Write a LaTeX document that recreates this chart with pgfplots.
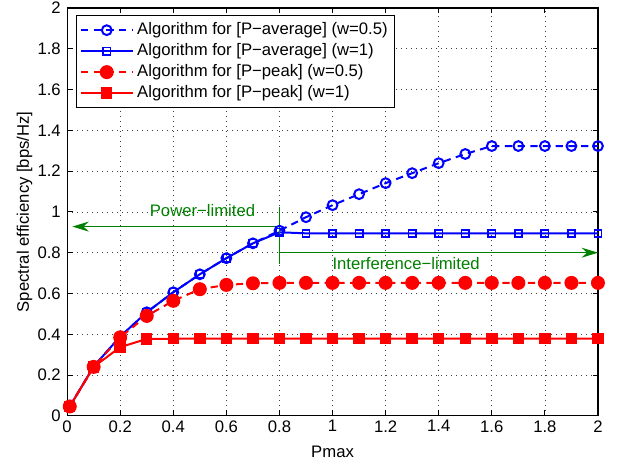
\documentclass[border=0pt]{standalone}
\usepackage{fontspec}
\setmainfont{Liberation Sans}
\usepackage{pgfplots}
\pgfplotsset{compat=1.18}
\usetikzlibrary{arrows.meta}
\definecolor{mgreen}{rgb}{0,0.5,0}
\begin{document}
\begin{tikzpicture}[font=\fontsize{9.2}{11}\selectfont]
\begin{axis}[
  scale only axis,
  width=292.6pt, height=224.8pt,
  xmin=0, xmax=2, ymin=0, ymax=2,
  xtick={0,0.2,0.4,0.6,0.8,1,1.2,1.4,1.6,1.8,2},
  ytick={0,0.2,0.4,0.6,0.8,1,1.2,1.4,1.6,1.8,2},
  /pgf/number format/assume math mode=true,
  xlabel={Pmax}, ylabel={Spectral efficiency [bps/Hz]},
  xlabel style={yshift=-1pt}, ylabel style={yshift=-4pt},
  xticklabel style={yshift=1pt},
  grid=major,
  major grid style={black!75, line width=0.4pt, dash pattern=on 0.45pt off 2.3pt},
  tick align=inside, major tick length=3pt,
  tick style={black, line width=0.5pt},
  axis line style={line width=0.6pt},
  legend cell align=left,
  legend style={at={(0.017,0.982)}, anchor=north west, draw=black, line width=0.6pt,
    inner sep=1.8pt, row sep=-0.6pt, font=\fontsize{9.2}{11}\selectfont},
  legend image code/.code={\draw[mark repeat=2,mark phase=2,#1] plot coordinates {(0cm,0cm) (0.5cm,0cm) (1cm,0cm)};},
]
\addplot[blue, line width=1.1pt, dash pattern=on 4pt off 3pt, mark=o, mark size=2.7pt, mark options={solid, line width=1.1pt}]
coordinates {(0.01,0.046)(0.1,0.242)(0.2,0.389)(0.3,0.508)(0.4,0.606)(0.5,0.694)(0.6,0.773)(0.7,0.846)(0.8,0.908)(0.9,0.974)(1.0,1.033)(1.1,1.087)(1.2,1.141)(1.3,1.19)(1.4,1.239)(1.5,1.284)(1.6,1.323)(1.7,1.323)(1.8,1.323)(1.9,1.323)(2.0,1.323)};
\addlegendentry{Algorithm for [P−average] (w=0.5)}
\addplot[blue, line width=1.1pt, mark=square, mark size=2pt, mark options={solid, line width=0.9pt}]
coordinates {(0.01,0.046)(0.1,0.242)(0.2,0.389)(0.3,0.508)(0.4,0.606)(0.5,0.694)(0.6,0.773)(0.7,0.846)(0.8,0.9)(0.9,0.895)(1.0,0.895)(1.1,0.895)(1.2,0.895)(1.3,0.895)(1.4,0.895)(1.5,0.895)(1.6,0.895)(1.7,0.895)(1.8,0.895)(1.9,0.895)(2.0,0.895)};
\addlegendentry{Algorithm for [P−average] (w=1)}
\addplot[red, line width=1.1pt, dash pattern=on 4pt off 3pt, mark=*, mark size=3.3pt, mark options={solid}]
coordinates {(0.01,0.046)(0.1,0.24)(0.2,0.385)(0.3,0.49)(0.4,0.564)(0.5,0.621)(0.6,0.642)(0.7,0.65)(0.8,0.652)(0.9,0.652)(1.0,0.652)(1.1,0.652)(1.2,0.652)(1.3,0.652)(1.4,0.652)(1.5,0.652)(1.6,0.652)(1.7,0.652)(1.8,0.652)(1.9,0.652)(2.0,0.652)};
\addlegendentry{Algorithm for [P−peak] (w=0.5)}
\addplot[red, line width=1.1pt, mark=square*, mark size=2.6pt, mark options={solid}]
coordinates {(0.01,0.046)(0.1,0.24)(0.2,0.337)(0.3,0.377)(0.4,0.378)(0.5,0.378)(0.6,0.378)(0.7,0.378)(0.8,0.378)(0.9,0.378)(1.0,0.378)(1.1,0.378)(1.2,0.378)(1.3,0.378)(1.4,0.378)(1.5,0.378)(1.6,0.378)(1.7,0.378)(1.8,0.378)(1.9,0.378)(2.0,0.378)};
\addlegendentry{Algorithm for [P−peak] (w=1)}
\draw[mgreen, line width=0.6pt] (axis cs:0.8,0.745) -- (axis cs:0.8,1.023);
\draw[mgreen, line width=0.6pt, -{Stealth[length=9pt,width=5.5pt]}] (axis cs:0.8,0.928) -- (axis cs:0.02,0.928);
\draw[mgreen, line width=0.6pt, -{Stealth[length=9pt,width=5.5pt]}] (axis cs:0.8,0.8) -- (axis cs:2,0.8);
\node[mgreen] at (axis cs:0.51,1.006) {Power−limited};
\node[mgreen] at (axis cs:1.277,0.745) {Interference−limited};
\end{axis}
\pgfresetboundingbox
\path ([shift={(-37pt,-26pt)}]current axis.south west) rectangle ([shift={(11.6pt,4.4pt)}]current axis.north east);
\end{tikzpicture}
\end{document}
